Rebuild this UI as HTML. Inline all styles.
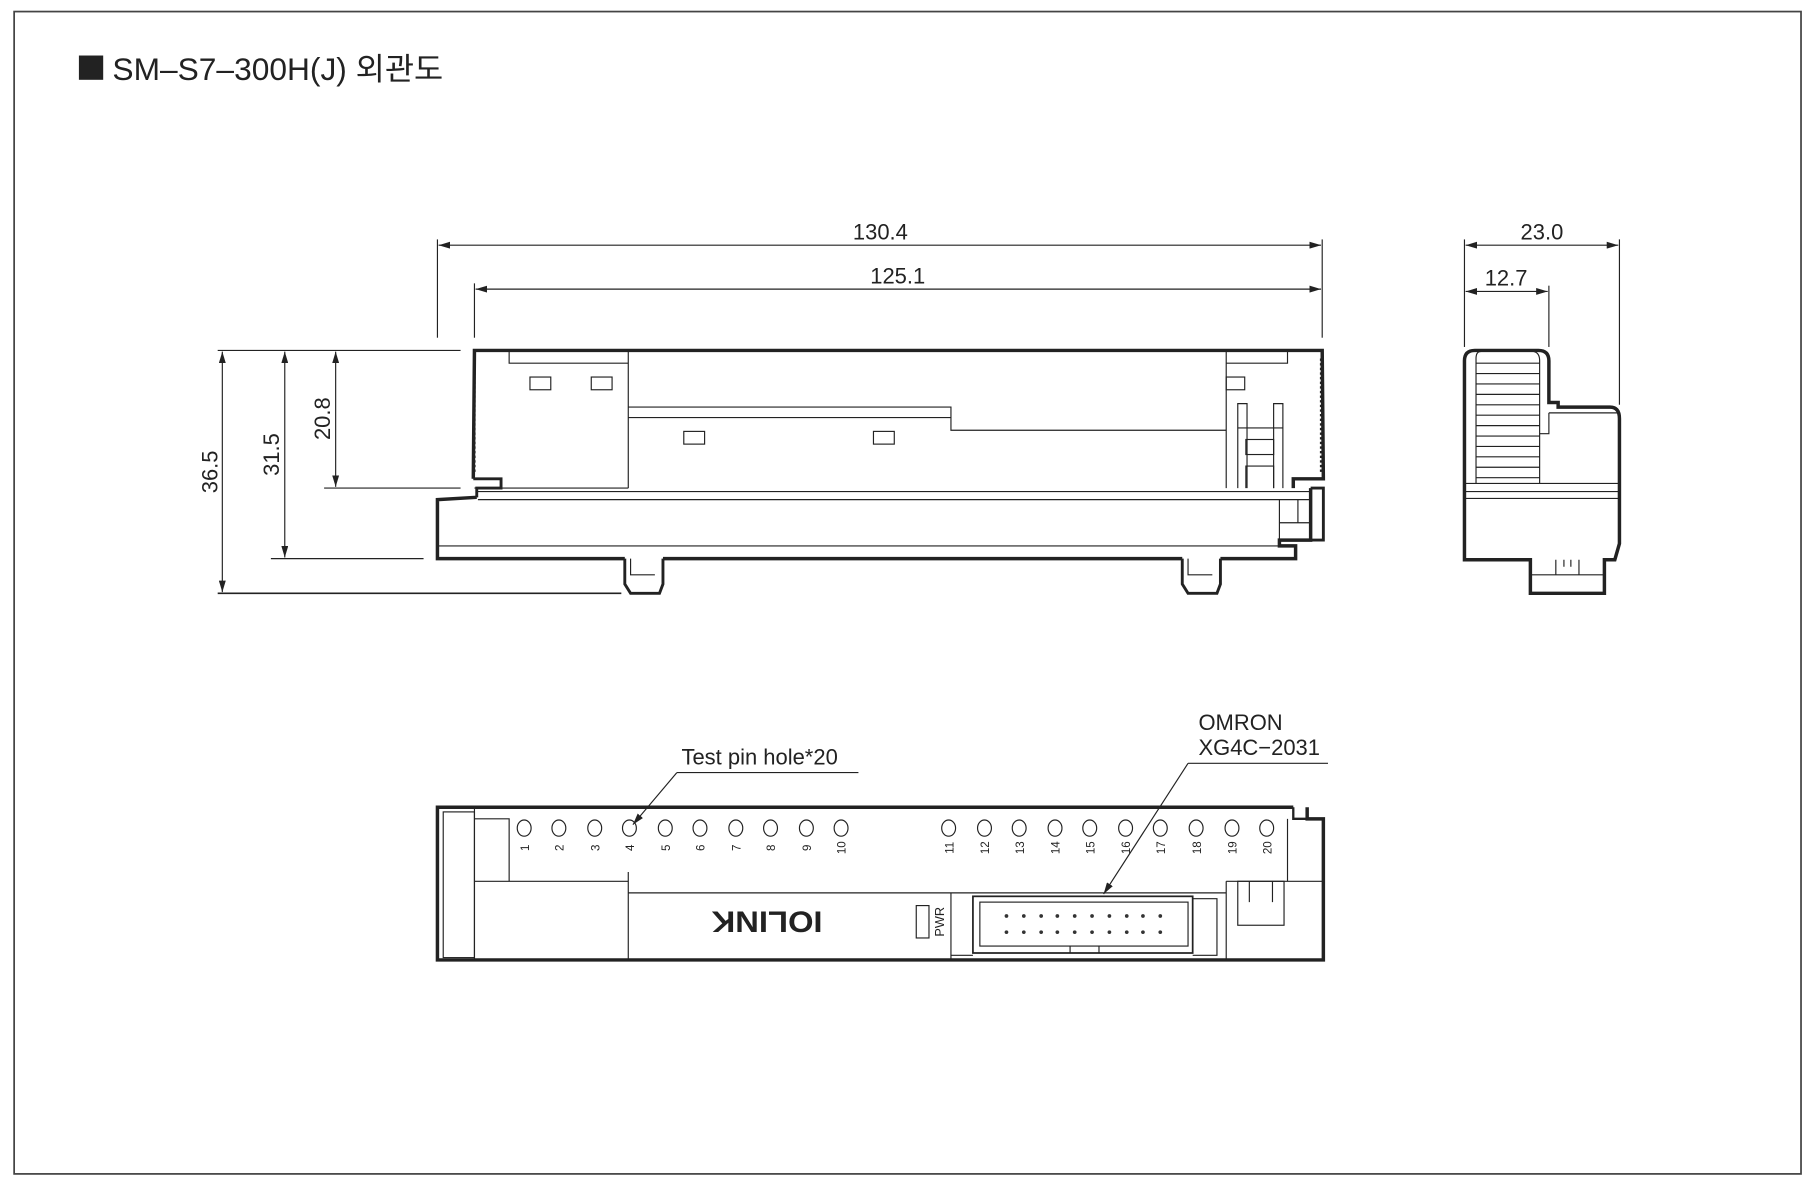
<!DOCTYPE html>
<html><head><meta charset="utf-8"><style>
html,body{margin:0;padding:0;background:#fff;}
svg{display:block;}
text{font-family:"Liberation Sans","Noto Sans CJK KR",sans-serif;fill:#222;}
</style></head><body>
<svg width="1814" height="1182" viewBox="0 0 1568 1022" xmlns="http://www.w3.org/2000/svg">
<defs>
<marker id="a" viewBox="0 0 10 6" refX="10" refY="3" markerWidth="10" markerHeight="6" orient="auto-start-reverse" markerUnits="userSpaceOnUse"><path d="M0,0 L10,3 L0,6 z" fill="#222"/></marker>
</defs>
<rect x="0" y="0" width="1568" height="1022" fill="#fff"/>
<rect x="12" y="10" width="1545" height="1005" fill="none" stroke="#444" stroke-width="1.5"/>
<rect x="68" y="48" width="21" height="21" fill="#222"/>
<text x="97" y="69" font-size="27" textLength="286" lengthAdjust="spacingAndGlyphs">SM–S7–300H(J) 외관도</text>

<g stroke="#222" stroke-width="1" fill="none">
<line x1="378" y1="207" x2="378" y2="292"/><line x1="1143" y1="207" x2="1143" y2="292"/><line x1="410" y1="245" x2="410" y2="292"/>
<line x1="379" y1="212" x2="1142" y2="212" marker-start="url(#a)" marker-end="url(#a)"/>
<line x1="411" y1="250" x2="1142" y2="250" marker-start="url(#a)" marker-end="url(#a)"/>
<line x1="188" y1="303" x2="398" y2="303"/><line x1="280" y1="422" x2="398" y2="422"/>
<line x1="234" y1="483" x2="366" y2="483"/><line x1="188" y1="513" x2="537" y2="513" stroke-width="1.5"/>
<line x1="192" y1="304" x2="192" y2="512" marker-start="url(#a)" marker-end="url(#a)"/>
<line x1="246" y1="304" x2="246" y2="482" marker-start="url(#a)" marker-end="url(#a)"/>
<line x1="290" y1="304" x2="290" y2="421" marker-start="url(#a)" marker-end="url(#a)"/>
<line x1="1266" y1="207" x2="1266" y2="300"/><line x1="1400" y1="207" x2="1400" y2="350"/><line x1="1339" y1="247" x2="1339" y2="300"/>
<line x1="1267" y1="212" x2="1399" y2="212" marker-start="url(#a)" marker-end="url(#a)"/>
<line x1="1267" y1="252" x2="1338" y2="252" marker-start="url(#a)" marker-end="url(#a)"/>
</g>
<g font-size="19">
<text x="761" y="207" text-anchor="middle">130.4</text>
<text x="776" y="245" text-anchor="middle">125.1</text>
<text x="1333" y="207" text-anchor="middle">23.0</text>
<text x="1302" y="247" text-anchor="middle">12.7</text>
<text transform="translate(188,408) rotate(-90)" text-anchor="middle">36.5</text>
<text transform="translate(241,393) rotate(-90)" text-anchor="middle">31.5</text>
<text transform="translate(285,362) rotate(-90)" text-anchor="middle">20.8</text>
</g>

<g stroke="#222" fill="none">
<path d="M409,414 L410,303 L1143,303 L1144,414 L1118,414 L1118,422" stroke-width="3"/>
<path d="M409,414 L433,414 L433,422 L412,422 L412,430" stroke-width="2.5"/>
<path d="M410,310 v100" stroke-width="2" stroke-dasharray="2 2"/>
<path d="M1142,310 v100" stroke-width="2" stroke-dasharray="2 2"/>
<g stroke-width="1">
<path d="M440,303 V314 H543 M543,303 V422 M410,422 H543"/>
<rect x="458" y="326" width="18" height="11"/><rect x="511" y="326" width="18" height="11"/>
<path d="M543,352 H822 V372 H1060 M543,361 H822"/>
<rect x="591" y="373" width="18" height="11"/><rect x="755" y="373" width="18" height="11"/>
<path d="M1060,303 V422 M1060,314 H1113 V303"/>
<rect x="1060" y="326" width="16" height="11"/>
<path d="M1070,422 V349 H1078 V422 M1101,422 V349 H1109 V422 M1070,370 H1109"/>
<rect x="1077" y="380" width="24" height="13"/><path d="M1077,422 V403 H1101 V422"/>
<path d="M413,425 H1133 M413,432 H1133"/>
<path d="M378,472 H1120"/>
<path d="M1106,432 V467 M1106,452 H1133 M1122,432 V452"/>
</g>
<path d="M412,430 L378,432 V483 H540 M573,483 H1022 M1055,483 H1120 V472 H1106 V467 H1133 V422" stroke-width="3"/>
<path d="M1133,422 H1144 V467 H1133" stroke-width="2.5"/>
<path d="M540,483 V505 L545,513 H570 L573,505 V483" stroke-width="2.5"/>
<path d="M545,483 V497 H566" stroke-width="1"/>
<path d="M1022,483 V505 L1027,513 H1052 L1055,505 V483" stroke-width="2.5"/>
<path d="M1027,483 V497 H1048" stroke-width="1"/>
</g>

<g stroke="#222" fill="none">
<path d="M1266,484 V312 Q1266,303 1275,303 H1330 Q1339,303 1339,312 V348 H1347 V352 H1392 Q1400,352 1400,362 V470 L1396,484 H1387 V513 H1323 V484 Z" stroke-width="3"/>
<g stroke-width="1">
<path d="M1276,418 V310 Q1276,304 1280,304 M1331,418 V312 Q1331,305 1326,304"/>
<path d="M1276,314 H1331 M1276,323 H1331 M1276,332 H1331 M1276,341 H1331 M1276,350 H1331 M1276,359 H1331 M1276,368 H1331 M1276,377 H1331 M1276,386 H1331 M1276,395 H1331 M1276,404 H1331 M1276,413 H1331"/>
<path d="M1339,357 H1398 M1339,357 V375 H1331"/>
<path d="M1266,425 H1400 M1266,431 H1400 M1266,418 H1400"/>
<path d="M1323,497 H1387 M1345,484 V497 M1365,484 V497 M1352,484 V490 M1358,484 V490"/>
</g>
</g>

<g stroke="#222" fill="none">
<path d="M1118,698 H378 V830 H1144 V708 H1130 V698" stroke-width="3"/>
<path d="M1118,698 V708 H1130" stroke-width="2"/>
<g stroke-width="1">
<rect x="383" y="702" width="27" height="126"/>
<path d="M410,698 V830 M410,708 H440 V762 H410 M440,762 H543 M543,754 V830 M543,772 H1060 M822,772 V830 M1060,762 V830 M1060,762 H1144 M1113,708 V762"/>
<rect x="1070" y="762" width="40" height="38"/><path d="M1080,762 V780 M1100,762 V780"/>
<rect x="792" y="783" width="11" height="28"/>
<rect x="841" y="775" width="190" height="49" stroke-width="1.5"/>
<rect x="847" y="780" width="180" height="38"/>
<path d="M925,818 V824 M950,818 V824 M1031,777 H1052 V826 H1031 M822,826 H841"/>
</g>
</g>
<g fill="none" stroke="#222" stroke-width="1">
<ellipse cx="453" cy="716" rx="6" ry="7"/><ellipse cx="483" cy="716" rx="6" ry="7"/><ellipse cx="514" cy="716" rx="6" ry="7"/><ellipse cx="544" cy="716" rx="6" ry="7"/><ellipse cx="575" cy="716" rx="6" ry="7"/><ellipse cx="605" cy="716" rx="6" ry="7"/><ellipse cx="636" cy="716" rx="6" ry="7"/><ellipse cx="666" cy="716" rx="6" ry="7"/><ellipse cx="697" cy="716" rx="6" ry="7"/><ellipse cx="727" cy="716" rx="6" ry="7"/>
<ellipse cx="820" cy="716" rx="6" ry="7"/><ellipse cx="851" cy="716" rx="6" ry="7"/><ellipse cx="881" cy="716" rx="6" ry="7"/><ellipse cx="912" cy="716" rx="6" ry="7"/><ellipse cx="942" cy="716" rx="6" ry="7"/><ellipse cx="973" cy="716" rx="6" ry="7"/><ellipse cx="1003" cy="716" rx="6" ry="7"/><ellipse cx="1034" cy="716" rx="6" ry="7"/><ellipse cx="1065" cy="716" rx="6" ry="7"/><ellipse cx="1095" cy="716" rx="6" ry="7"/>
</g>
<g font-size="10" text-anchor="middle">
<text transform="translate(457,733) rotate(-90)">1</text><text transform="translate(487,733) rotate(-90)">2</text><text transform="translate(518,733) rotate(-90)">3</text><text transform="translate(548,733) rotate(-90)">4</text><text transform="translate(579,733) rotate(-90)">5</text><text transform="translate(609,733) rotate(-90)">6</text><text transform="translate(640,733) rotate(-90)">7</text><text transform="translate(670,733) rotate(-90)">8</text><text transform="translate(701,733) rotate(-90)">9</text><text transform="translate(731,733) rotate(-90)">10</text>
<text transform="translate(824,733) rotate(-90)">11</text><text transform="translate(855,733) rotate(-90)">12</text><text transform="translate(885,733) rotate(-90)">13</text><text transform="translate(916,733) rotate(-90)">14</text><text transform="translate(946,733) rotate(-90)">15</text><text transform="translate(977,733) rotate(-90)">16</text><text transform="translate(1007,733) rotate(-90)">17</text><text transform="translate(1038,733) rotate(-90)">18</text><text transform="translate(1069,733) rotate(-90)">19</text><text transform="translate(1099,733) rotate(-90)">20</text>
</g>
<g fill="#333">
<circle cx="870" cy="792" r="1.6"/><circle cx="885" cy="792" r="1.6"/><circle cx="900" cy="792" r="1.6"/><circle cx="914" cy="792" r="1.6"/><circle cx="929" cy="792" r="1.6"/><circle cx="944" cy="792" r="1.6"/><circle cx="959" cy="792" r="1.6"/><circle cx="974" cy="792" r="1.6"/><circle cx="988" cy="792" r="1.6"/><circle cx="1003" cy="792" r="1.6"/>
<circle cx="870" cy="806" r="1.6"/><circle cx="885" cy="806" r="1.6"/><circle cx="900" cy="806" r="1.6"/><circle cx="914" cy="806" r="1.6"/><circle cx="929" cy="806" r="1.6"/><circle cx="944" cy="806" r="1.6"/><circle cx="959" cy="806" r="1.6"/><circle cx="974" cy="806" r="1.6"/><circle cx="988" cy="806" r="1.6"/><circle cx="1003" cy="806" r="1.6"/>
</g>
<text transform="translate(663,788) rotate(180)" font-size="26" font-weight="bold" text-anchor="middle" textLength="96" lengthAdjust="spacingAndGlyphs">IOLINK</text>
<text transform="translate(816,797) rotate(-90)" font-size="11" text-anchor="middle">PWR</text>

<text x="589" y="661" font-size="19">Test pin hole*20</text>
<text x="1036" y="631" font-size="19">OMRON</text>
<text x="1036" y="653" font-size="19">XG4C−2031</text>
<g stroke="#222" stroke-width="1" fill="none">
<line x1="585" y1="668" x2="742" y2="668"/>
<line x1="585" y1="668" x2="547" y2="713" marker-end="url(#a)"/>
<line x1="1027" y1="660" x2="1148" y2="660"/>
<line x1="1027" y1="660" x2="954" y2="773" marker-end="url(#a)"/>
</g>
</svg>
</body></html>
